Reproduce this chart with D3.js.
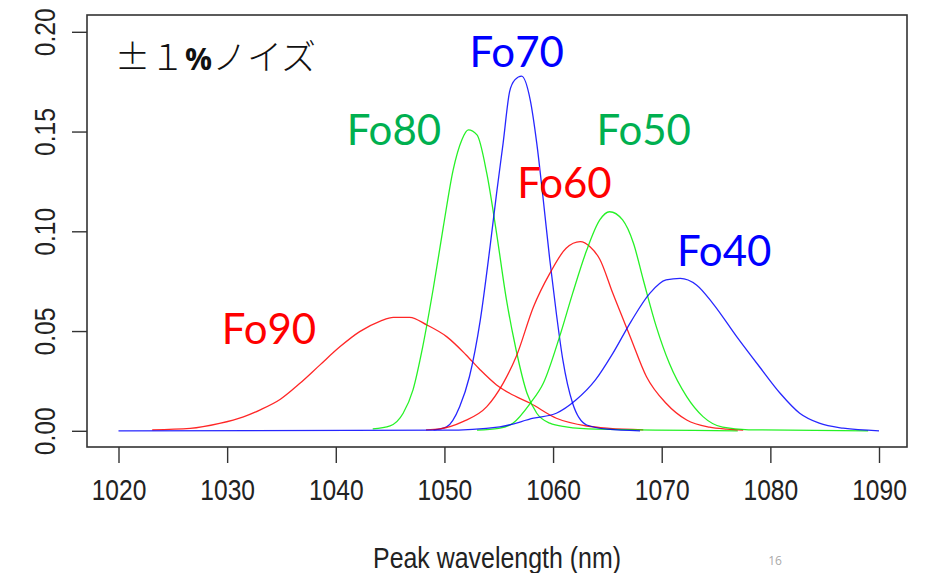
<!DOCTYPE html>
<html>
<head>
<meta charset="utf-8">
<script src="https://cdn.jsdelivr.net/npm/d3@7"></script>
<style>
  html, body { margin: 0; padding: 0; background: #fff; }
  svg { display: block; }
</style>
</head>
<body>
<svg id="chart" width="926" height="573"></svg>
<script>
// ---- Data ----
const xTicks = [1020, 1030, 1040, 1050, 1060, 1070, 1080, 1090];
const yTicks = [0.00, 0.05, 0.10, 0.15, 0.20];
const yTickLabels = ["0.00", "0.05", "0.10", "0.15", "0.20"];

const fo90X = [1023.1, 1026.6, 1029.3, 1031.5, 1033.0, 1034.9, 1036.7, 1038.5, 1040.4, 1042.2, 1044.1, 1045.3, 1046.8, 1048.4, 1050.2, 1052.0, 1053.3, 1054.8, 1056.0, 1057.9, 1060.3, 1063.1, 1065.2, 1068.3];
const fo90Y = [0.0005, 0.0012, 0.0037, 0.0070, 0.0104, 0.0158, 0.0238, 0.0328, 0.0422, 0.0497, 0.0550, 0.0569, 0.0569, 0.0530, 0.0472, 0.0380, 0.0305, 0.0230, 0.0188, 0.0138, 0.0063, 0.0024, 0.0012, 0.0005];

const fo80X = [1043.4, 1045.0, 1046.2, 1047.1, 1048.0, 1049.0, 1049.9, 1050.8, 1051.6, 1052.2, 1053.0, 1053.9, 1054.8, 1055.7, 1056.6, 1057.6, 1058.5, 1059.7, 1061.2, 1064.0, 1077.0];
const fo80Y = [0.0010, 0.0025, 0.0088, 0.0204, 0.0421, 0.0722, 0.1023, 0.1307, 0.1458, 0.1508, 0.1483, 0.1290, 0.0990, 0.0660, 0.0405, 0.0188, 0.0088, 0.0038, 0.0020, 0.0008, 0.0000];

const fo70X = [1049.0, 1050.2, 1051.4, 1052.3, 1053.3, 1054.2, 1054.8, 1055.4, 1056.0, 1056.5, 1057.1, 1057.9, 1058.5, 1059.1, 1059.7, 1060.3, 1060.9, 1061.8, 1063.1, 1065.0, 1068.0];
const fo70Y = [0.0005, 0.0020, 0.0121, 0.0271, 0.0555, 0.0923, 0.1190, 0.1441, 0.1700, 0.1760, 0.1778, 0.1658, 0.1441, 0.1157, 0.0856, 0.0589, 0.0355, 0.0138, 0.0029, 0.0008, 0.0000];

const fo60X = [1048.3, 1049.6, 1051.7, 1053.9, 1055.4, 1056.6, 1058.2, 1059.7, 1061.2, 1062.5, 1063.4, 1064.3, 1065.5, 1067.1, 1068.6, 1070.4, 1072.3, 1074.4, 1076.0, 1077.5];
const fo60Y = [0.0005, 0.0010, 0.0046, 0.0121, 0.0238, 0.0371, 0.0622, 0.0789, 0.0915, 0.0948, 0.0923, 0.0860, 0.0689, 0.0472, 0.0271, 0.0138, 0.0054, 0.0018, 0.0008, 0.0003];

const fo50X = [1053.0, 1055.0, 1056.3, 1057.9, 1059.1, 1060.6, 1061.8, 1063.1, 1064.3, 1065.2, 1066.4, 1067.4, 1068.3, 1069.5, 1070.7, 1072.3, 1073.8, 1075.6, 1078.0, 1089.0];
const fo50Y = [0.0003, 0.0012, 0.0038, 0.0138, 0.0238, 0.0472, 0.0689, 0.0906, 0.1057, 0.1098, 0.1057, 0.0940, 0.0757, 0.0522, 0.0338, 0.0171, 0.0071, 0.0018, 0.0005, 0.0000];

const fo40X = [1020.0, 1050.0, 1055.1, 1058.2, 1060.3, 1062.1, 1063.9, 1065.5, 1067.2, 1068.9, 1070.4, 1071.7, 1073.2, 1074.7, 1076.9, 1079.0, 1080.9, 1082.7, 1084.5, 1086.7, 1090.0];
const fo40Y = [0.0000, 0.0003, 0.0020, 0.0063, 0.0088, 0.0154, 0.0255, 0.0388, 0.0550, 0.0689, 0.0756, 0.0764, 0.0731, 0.0639, 0.0472, 0.0321, 0.0188, 0.0088, 0.0038, 0.0013, 0.0000];

const seriesNames = ["Fo90", "Fo80", "Fo70", "Fo60", "Fo50", "Fo40"];
const seriesX = [fo90X, fo80X, fo70X, fo60X, fo50X, fo40X];
const seriesY = [fo90Y, fo80Y, fo70Y, fo60Y, fo50Y, fo40Y];
const lineColors = ["#ff0000", "#00ee00", "#0000ff", "#ff0000", "#00ee00", "#0000ff"];
const labelColors = ["#ff0000", "#00b050", "#0000ff", "#ff0000", "#00b050", "#0000ff"];
// label anchor in data units (left x, baseline y)
const labelX = [1029.5, 1041.0, 1052.3, 1056.7, 1064.0, 1071.4];
const labelY = [0.0435, 0.1435, 0.1823, 0.1167, 0.1435, 0.0826];

const titleX = "Peak wavelength (nm)";
const noteText = "±１";
const notePct = "%";
const noteTail = "ノイズ";
const pageNumber = "16";

// ---- Layout ----
const svg = d3.select("#chart");
const box = { left: 87, top: 15, right: 907, bottom: 447 };
const x = d3.scaleLinear().domain([1020, 1090]).range([118.5, 879]);
const y = d3.scaleLinear().domain([0, 0.2]).range([430.8, 31.8]);

const tickFont = "'Liberation Sans', Arial, sans-serif";
const narrow = 0.82;

// plot box
svg.append("rect")
  .attr("x", box.left).attr("y", box.top)
  .attr("width", box.right - box.left).attr("height", box.bottom - box.top)
  .attr("fill", "none").attr("stroke", "#333").attr("stroke-width", 1.6);

// x axis
const gx = svg.append("g").attr("transform", `translate(0,${box.bottom})`)
  .call(d3.axisBottom(x).tickValues(xTicks).tickFormat(d3.format("d")).tickSize(16).tickPadding(16));
gx.select(".domain").remove();
gx.selectAll(".tick line").attr("stroke", "#333").attr("stroke-width", 1.4);
gx.selectAll(".tick text")
  .attr("font-family", tickFont).attr("font-size", 30).attr("fill", "#222")
  .attr("transform", `scale(${narrow},1)`);

// y axis
const gy = svg.append("g").attr("transform", `translate(${box.left},0)`)
  .call(d3.axisLeft(y).tickValues(yTicks).tickFormat((d, i) => yTickLabels[i]).tickSize(15));
gy.select(".domain").remove();
gy.selectAll(".tick line").attr("stroke", "#333").attr("stroke-width", 1.4);
gy.selectAll(".tick text")
  .attr("font-family", tickFont).attr("font-size", 30).attr("fill", "#222")
  .attr("text-anchor", "middle").attr("dy", null)
  .attr("x", null)
  .attr("transform", `translate(-42,0) rotate(-90) scale(${narrow},1)`)
  .attr("dominant-baseline", "central");

// x title
svg.append("text")
  .attr("transform", `translate(${(box.left + box.right) / 2},568) scale(0.86,1)`)
  .attr("text-anchor", "middle")
  .attr("font-family", tickFont).attr("font-size", 29).attr("fill", "#222")
  .text(titleX);

// page number (faint, bottom right)
svg.append("text")
  .attr("x", 775).attr("y", 565)
  .attr("text-anchor", "middle")
  .attr("font-family", "'Open Sans', sans-serif").attr("font-size", 12).attr("fill", "#aaa")
  .text(pageNumber);

// curves
const line = d3.line().x(d => x(d[0])).y(d => y(d[1])).curve(d3.curveMonotoneX);
const plot = svg.append("g");
seriesNames.forEach((name, i) => {
  const pts = seriesX[i].map((v, k) => [v, seriesY[i][k]]);
  plot.append("path")
    .datum(pts)
    .attr("d", line)
    .attr("fill", "none")
    .attr("stroke", lineColors[i])
    .attr("stroke-width", 1.3)
    .attr("stroke-opacity", 0.85);
});

// labels
seriesNames.forEach((name, i) => {
  svg.append("text")
    .attr("x", x(labelX[i])).attr("y", y(labelY[i]))
    .attr("font-family", "Lato, 'Open Sans', sans-serif")
    .attr("font-size", 42)
    .attr("fill", labelColors[i])
    .text(name);
});

// note
const note = svg.append("text")
  .attr("x", 115).attr("y", 70)
  .attr("font-family", "'Noto Sans CJK JP', sans-serif")
  .attr("font-size", 35)
  .attr("font-weight", 300)
  .attr("fill", "#111");
note.append("tspan").text(noteText);
note.append("tspan").attr("font-weight", 700).attr("font-family", "'Open Sans', sans-serif").attr("font-size", 30).text(notePct);
note.append("tspan").text(noteTail);
</script>
</body>
</html>
